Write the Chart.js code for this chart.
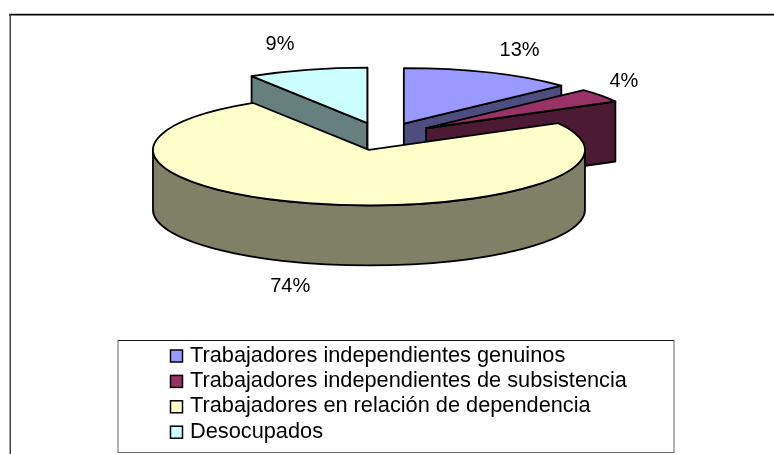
<!DOCTYPE html>
<html>
<head>
<meta charset="utf-8">
<style>html,body{margin:0;padding:0;background:#fff}canvas{display:block}</style>
<script src="https://cdn.jsdelivr.net/npm/chart.js@4"></script>
</head>
<body>
<canvas id="c" width="774" height="454"></canvas>
<script>
const categories = ["Trabajadores independientes genuinos","Trabajadores independientes de subsistencia","Trabajadores en relación de dependencia","Desocupados"];
const shares = [13, 4, 74, 9];
const topColors = ["#9999FF","#993366","#FFFFCC","#CCFFFF"];
const sideColors = ["#4D4D80","#4D1A33","#808066","#668080"];

const TILT = 0.257, DEPTH = 60, EXPLODE = 54, RIM = 216;
const FONT = '"Liberation Sans", Arial, sans-serif';
const LABEL_NUDGE = [[30,-22],[23,-14],[-25,23],[-27,-25]];

const pie3d = {
  id: 'pie3d',
  beforeDatasetsDraw(chart) {
    const ctx = chart.ctx;
    const arcs = chart.getDatasetMeta(0).data;
    // slice geometry comes from the library's arc elements
    const parts = arcs.map((arc, i) => {
      const p = arc.getProps(['x','y','startAngle','endAngle','outerRadius'], true);
      const d = arc.options.offset, mid = (p.startAngle + p.endAngle) / 2;
      return {i, s: p.startAngle, e: p.endAngle, mid, r: p.outerRadius,
              cx: p.x + Math.cos(mid) * d, cy: p.y + Math.sin(mid) * d * TILT};
    }).sort((a, b) => Math.sin(a.mid) - Math.sin(b.mid));

    ctx.save();
    ctx.lineWidth = 1.8; ctx.lineJoin = 'round'; ctx.strokeStyle = '#000';
    for (const q of parts) {
      ctx.fillStyle = sideColors[q.i];
      const ry = q.r * TILT;
      const radial = a => {
        const tx = q.cx + Math.cos(a) * q.r, ty = q.cy + Math.sin(a) * ry;
        ctx.beginPath(); ctx.moveTo(q.cx, q.cy); ctx.lineTo(tx, ty);
        ctx.lineTo(tx, ty + DEPTH); ctx.lineTo(q.cx, q.cy + DEPTH); ctx.closePath();
        ctx.fill(); ctx.stroke();
      };
      if (Math.cos(q.s) < 0) radial(q.s);
      if (Math.cos(q.e) > 0) radial(q.e);
      const a0 = Math.max(q.s, 0), a1 = Math.min(q.e, Math.PI);
      if (a1 > a0) {
        ctx.beginPath();
        ctx.ellipse(q.cx, q.cy, q.r, ry, 0, a0, a1);
        ctx.ellipse(q.cx, q.cy + DEPTH, q.r, ry, 0, a1, a0, true);
        ctx.closePath(); ctx.fill(); ctx.stroke();
      }
      ctx.fillStyle = topColors[q.i];
      ctx.beginPath();
      ctx.moveTo(q.cx, q.cy);
      ctx.ellipse(q.cx, q.cy, q.r, ry, 0, q.s, q.e);
      ctx.closePath(); ctx.fill(); ctx.stroke();
    }
    ctx.restore();
    return false;
  },
  afterDraw(chart) {
    const ctx = chart.ctx;
    const arcs = chart.getDatasetMeta(0).data;
    const total = shares.reduce((a, b) => a + b, 0);
    ctx.save();
    // chart frame
    ctx.fillStyle = '#c4c4c4'; ctx.fillRect(9, 13, 765, 1);
    ctx.fillStyle = '#000'; ctx.fillRect(9, 14, 765, 1.5);
    ctx.fillStyle = '#444'; ctx.fillRect(9.5, 14, 1.5, 440);
    // percentage labels
    ctx.fillStyle = '#000'; ctx.textAlign = 'center'; ctx.textBaseline = 'middle';
    ctx.font = '20px ' + FONT;
    arcs.forEach((arc, i) => {
      const p = arc.getProps(['x','y','startAngle','endAngle','outerRadius'], true);
      const d = arc.options.offset, mid = (p.startAngle + p.endAngle) / 2;
      const r = p.outerRadius;
      const bx = p.x + Math.cos(mid) * (d + r);
      const by = p.y + Math.sin(mid) * (d + r) * TILT + (Math.sin(mid) > 0 ? DEPTH : 0);
      ctx.fillText(Math.round(shares[i] / total * 100) + '%', bx + LABEL_NUDGE[i][0], by + LABEL_NUDGE[i][1]);
    });
    // legend
    ctx.fillStyle = '#fff'; ctx.fillRect(118, 340, 556, 112);
    ctx.strokeStyle = '#666'; ctx.lineWidth = 1; ctx.strokeRect(118, 340.5, 556, 112);
    ctx.strokeStyle = '#111'; ctx.beginPath(); ctx.moveTo(118, 340.5); ctx.lineTo(674, 340.5); ctx.stroke();
    const items = chart.options.plugins.legend.labels.generateLabels(chart);
    ctx.textAlign = 'left'; ctx.textBaseline = 'alphabetic';
    ctx.font = '21.75px ' + FONT;
    items.forEach((it, i) => {
      const y = 350 + i * 25.4;
      ctx.fillStyle = it.fillStyle; ctx.fillRect(170.5, y, 12, 12);
      ctx.strokeStyle = '#000'; ctx.lineWidth = 1.5; ctx.strokeRect(170.5, y, 12, 12);
      ctx.fillStyle = '#000';
      ctx.fillText(it.text, 190, y + 11.5);
    });
    ctx.restore();
  }
};

new Chart(document.getElementById('c'), {
  type: 'pie',
  data: { labels: categories, datasets: [{ data: shares, backgroundColor: topColors, borderWidth: 0, offset: EXPLODE, hoverOffset: 0 }] },
  options: {
    responsive: false, animation: false, radius: RIM,
    layout: { padding: { right: 9.2, bottom: 181.2 } },
    plugins: { legend: { display: false }, tooltip: { enabled: false } }
  },
  plugins: [pie3d]
});
</script>
</body>
</html>
